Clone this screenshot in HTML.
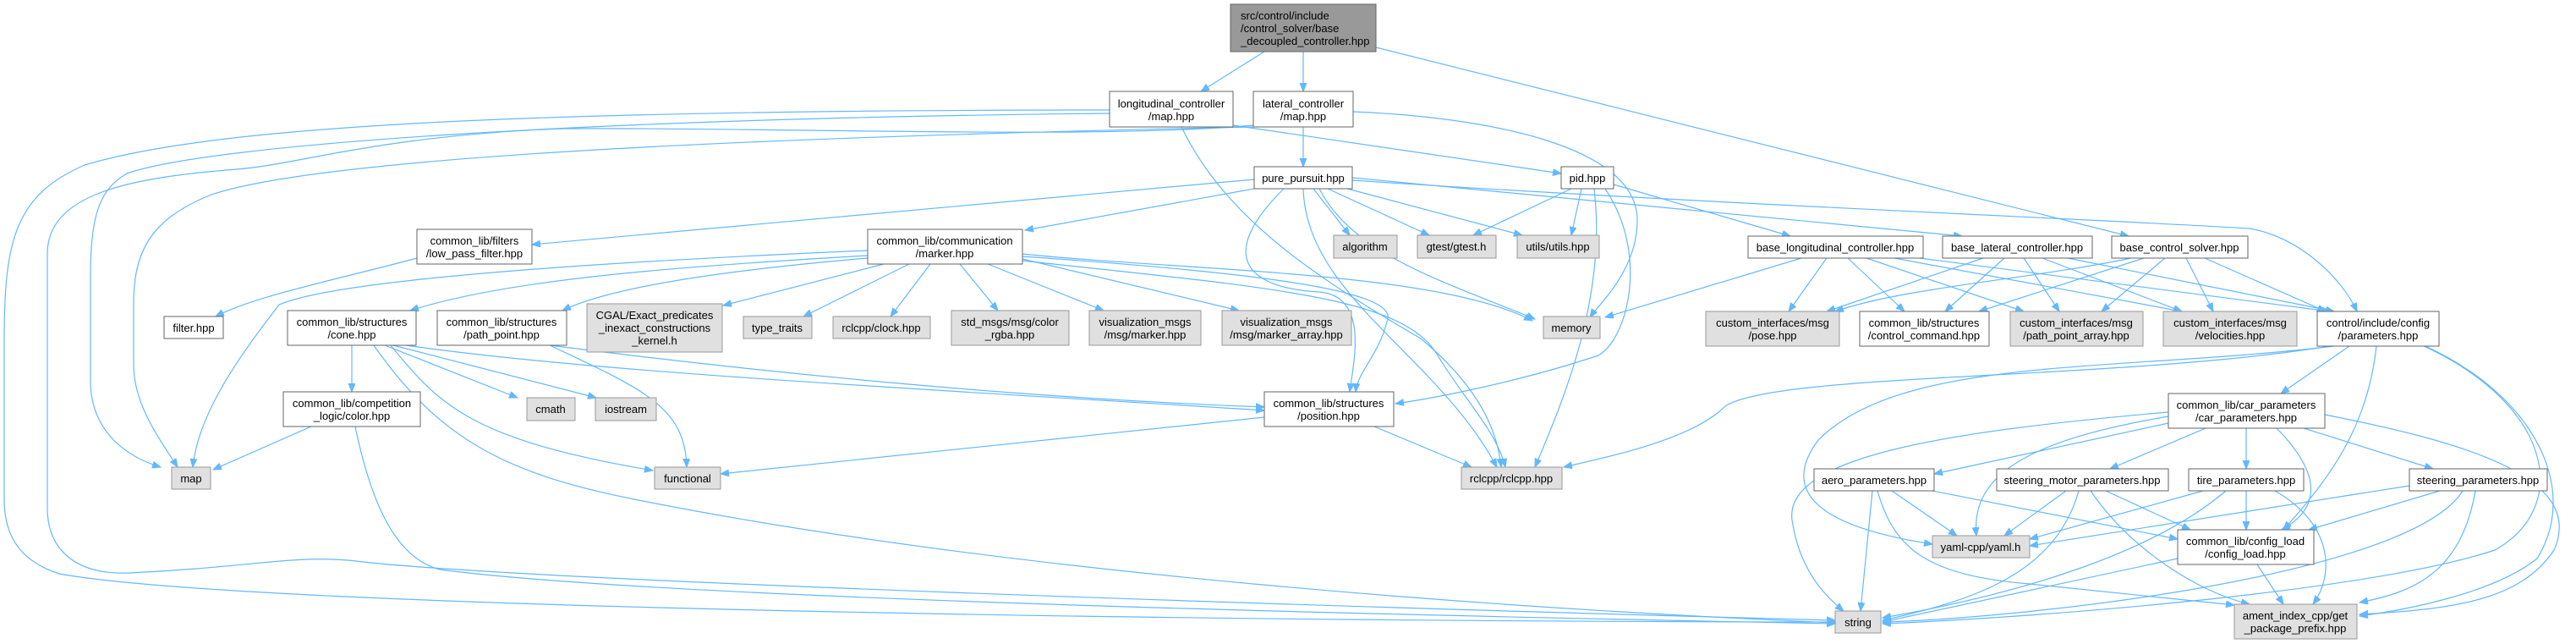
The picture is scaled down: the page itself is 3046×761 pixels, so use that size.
<!DOCTYPE html>
<html><head><meta charset="utf-8"><style>
html,body{margin:0;padding:0;background:#fff;}
svg{display:block}
text{font-family:"Liberation Sans",Arial,sans-serif;font-size:13px;fill:#000;transform:translateY(1px)}
.e{fill:none;stroke:#63b8ff;stroke-width:1.2;marker-end:url(#a)}
.w{fill:#fff;stroke:#666;stroke-width:1}
.g{fill:#e0e0e0;stroke:#999;stroke-width:1}
.r{fill:#999;stroke:#666;stroke-width:1}
</style></head><body>
<svg width="3046" height="761" viewBox="0 0 3046 761" xmlns="http://www.w3.org/2000/svg">
<defs><marker id="a" markerUnits="userSpaceOnUse" markerWidth="12" markerHeight="10" refX="10" refY="4" orient="auto"><path d="M0,0 L10,4 L0,8 z" fill="#63b8ff" stroke="#63b8ff"/></marker></defs>
<g>
<path class="e" d="M1495,61 L1420,108"/>
<path class="e" d="M1541,61 L1541,108"/>
<path class="e" d="M1627,56 L2517,279"/>
<path class="e" d="M1458,148 L1846,205"/>
<path class="e" d="M1312,130 C600,130 250,150 100,195 C20,230 5,280 5,400 L5,590 C5,640 30,665 70,678 C300,720 1500,735 2170,735"/>
<path class="e" d="M1312,134 C700,140 250,170 150,205 C115,225 107,260 107,330 L107,450 C107,510 150,540 190,552"/>
<path class="e" d="M1482,150 C1000,160 400,180 250,230 C175,260 158,300 158,360 L158,430 C158,480 190,520 210,552"/>
<path class="e" d="M1482,148 C1300,165 900,150 666,152 C450,160 350,195 280,200 C150,210 56,230 56,300 L56,600 C56,650 90,680 154,677 C300,670 350,655 421,663 C600,685 1500,715 2170,733"/>
<path class="e" d="M1541,150 L1541,197"/>
<path class="e" d="M1600,132 C1750,138 1936,170 1936,260 C1936,320 1890,360 1880,375"/>
<path class="e" d="M1397,150 C1450,260 1560,330 1680,400 C1740,450 1770,500 1775,552"/>
<path class="e" d="M1483,212 L629,289"/>
<path class="e" d="M1483,223 L1212,272"/>
<path class="e" d="M1553,223 L1596,278"/>
<path class="e" d="M1570,223 L1690,278"/>
<path class="e" d="M1593,223 L1800,278"/>
<path class="e" d="M1560,223 C1600,300 1700,330 1815,377"/>
<path class="e" d="M1518,223 C1440,300 1470,340 1560,345 C1620,350 1600,430 1596,463"/>
<path class="e" d="M1541,223 C1545,350 1700,420 1770,552"/>
<path class="e" d="M1599,213 C2000,240 2500,260 2660,270 C2720,280 2770,330 2787,368"/>
<path class="e" d="M1599,210 L2320,279"/>
<path class="e" d="M1858,223 L1742,278"/>
<path class="e" d="M1870,223 L1858,278"/>
<path class="e" d="M1885,223 C1900,350 1850,470 1815,552"/>
<path class="e" d="M1898,223 C1950,300 1925,400 1890,420 C1800,450 1700,470 1650,477"/>
<path class="e" d="M1908,218 L2117,279"/>
<path class="e" d="M1026,296 C700,310 400,330 330,360 C300,400 235,480 228,552"/>
<path class="e" d="M1026,302 C800,315 600,330 485,367"/>
<path class="e" d="M1026,305 C850,320 720,340 665,367"/>
<path class="e" d="M1045,312 L855,361"/>
<path class="e" d="M1075,312 L950,374"/>
<path class="e" d="M1100,312 L1053,374"/>
<path class="e" d="M1135,312 L1180,367"/>
<path class="e" d="M1168,312 L1305,367"/>
<path class="e" d="M1209,306 L1465,367"/>
<path class="e" d="M1209,300 C1400,320 1700,320 1812,379"/>
<path class="e" d="M1209,303 C1450,320 1660,340 1640,380 C1630,420 1605,440 1603,463"/>
<path class="e" d="M1209,308 C1500,340 1660,350 1700,420 C1730,470 1770,510 1780,552"/>
<path class="e" d="M493,305 C400,330 300,350 255,374"/>
<path class="e" d="M416,408 L416,463"/>
<path class="e" d="M455,408 L612,470"/>
<path class="e" d="M465,408 L705,470"/>
<path class="e" d="M462,408 C520,480 560,520 772,556"/>
<path class="e" d="M480,408 C700,440 1100,460 1495,485"/>
<path class="e" d="M442,408 C520,520 600,560 750,590 C1200,680 1800,720 2170,736"/>
<path class="e" d="M650,408 C900,440 1200,470 1495,481"/>
<path class="e" d="M650,408 C760,460 810,480 812,552"/>
<path class="e" d="M368,504 L252,555"/>
<path class="e" d="M420,504 C440,600 470,660 520,673 C800,710 1800,730 2170,737"/>
<path class="e" d="M1495,493 L852,560"/>
<path class="e" d="M1625,504 L1740,552"/>
<path class="e" d="M2160,305 L2115,368"/>
<path class="e" d="M2185,305 L2252,368"/>
<path class="e" d="M2207,305 L2393,368"/>
<path class="e" d="M2240,305 L2580,368"/>
<path class="e" d="M2270,305 L2755,368"/>
<path class="e" d="M2130,305 L1898,375"/>
<path class="e" d="M2345,305 L2160,368"/>
<path class="e" d="M2370,305 L2300,368"/>
<path class="e" d="M2393,305 L2435,368"/>
<path class="e" d="M2415,305 L2580,368"/>
<path class="e" d="M2445,305 L2760,368"/>
<path class="e" d="M2520,305 C2400,330 2250,340 2170,368"/>
<path class="e" d="M2535,305 L2340,368"/>
<path class="e" d="M2560,305 L2485,368"/>
<path class="e" d="M2585,305 L2617,368"/>
<path class="e" d="M2607,305 L2750,368"/>
<path class="e" d="M2778,409 L2697,465"/>
<path class="e" d="M2810,409 C2800,500 2760,560 2700,626"/>
<path class="e" d="M2866,409 C3020,480 3040,600 2950,650 C2800,700 2400,730 2226,737"/>
<path class="e" d="M2755,409 C2500,450 2100,440 2040,480 C2000,520 1900,540 1849,552"/>
<path class="e" d="M2760,409 C2500,440 2250,420 2150,520 C2090,600 2200,630 2285,643"/>
<path class="e" d="M2868,409 C3000,470 3050,580 3000,660 C2950,700 2850,720 2790,728"/>
<path class="e" d="M2564,500 L2287,560"/>
<path class="e" d="M2608,506 L2495,554"/>
<path class="e" d="M2656,506 L2656,554"/>
<path class="e" d="M2724,506 L2877,554"/>
<path class="e" d="M2692,506 C2745,560 2745,600 2698,626"/>
<path class="e" d="M2564,492 C2400,520 2330,560 2337,633"/>
<path class="e" d="M2564,487 C2300,510 2100,540 2120,620 C2130,680 2165,710 2180,722"/>
<path class="e" d="M2749,490 C2900,520 3060,560 3020,650 C2980,710 2900,720 2790,726"/>
<path class="e" d="M2237,580 L2314,633"/>
<path class="e" d="M2214,580 L2200,722"/>
<path class="e" d="M2285,580 L2575,637"/>
<path class="e" d="M2220,580 C2240,650 2280,680 2400,690 C2500,700 2600,710 2642,715"/>
<path class="e" d="M2443,580 L2370,633"/>
<path class="e" d="M2458,580 C2430,680 2330,710 2226,733"/>
<path class="e" d="M2490,580 L2590,626"/>
<path class="e" d="M2472,580 C2520,650 2600,700 2660,714"/>
<path class="e" d="M2605,580 L2400,637"/>
<path class="e" d="M2656,580 L2656,626"/>
<path class="e" d="M2632,580 C2550,650 2400,700 2226,730"/>
<path class="e" d="M2690,580 C2760,620 2760,680 2735,714"/>
<path class="e" d="M2849,574 L2400,645"/>
<path class="e" d="M2885,580 L2730,626"/>
<path class="e" d="M2912,580 C2850,680 2400,730 2226,735"/>
<path class="e" d="M2927,580 C2910,680 2850,700 2790,712"/>
<path class="e" d="M2575,660 L2226,735"/>
<path class="e" d="M2669,667 L2700,714"/>
</g>
<g text-anchor="middle">
<rect class="r" x="1455" y="5" width="172" height="56"/>
<text x="1467" y="22" text-anchor="start">src/control/include</text><text x="1467" y="37" text-anchor="start">/control_solver/base</text><text x="1467" y="52" text-anchor="start">_decoupled_controller.hpp</text>
<rect class="w" x="1312" y="108" width="146" height="42"/><text x="1385" y="126">longitudinal_controller</text><text x="1385" y="141">/map.hpp</text>
<rect class="w" x="1482" y="108" width="118" height="42"/><text x="1541" y="126">lateral_controller</text><text x="1541" y="141">/map.hpp</text>
<rect class="w" x="1483" y="197" width="116" height="26"/><text x="1541" y="214">pure_pursuit.hpp</text>
<rect class="w" x="1846" y="197" width="62" height="26"/><text x="1877" y="214">pid.hpp</text>
<rect class="w" x="493" y="271" width="136" height="41"/><text x="561" y="288">common_lib/filters</text><text x="561" y="303">/low_pass_filter.hpp</text>
<rect class="w" x="1026" y="271" width="183" height="41"/><text x="1117" y="288">common_lib/communication</text><text x="1117" y="303">/marker.hpp</text>
<rect class="g" x="1577" y="278" width="75" height="27"/><text x="1614" y="295">algorithm</text>
<rect class="g" x="1676" y="278" width="93" height="27"/><text x="1722" y="295">gtest/gtest.h</text>
<rect class="g" x="1794" y="278" width="97" height="27"/><text x="1842" y="295">utils/utils.hpp</text>
<rect class="w" x="2067" y="279" width="207" height="26"/><text x="2170" y="296">base_longitudinal_controller.hpp</text>
<rect class="w" x="2297" y="279" width="177" height="26"/><text x="2385" y="296">base_lateral_controller.hpp</text>
<rect class="w" x="2497" y="279" width="161" height="26"/><text x="2577" y="296">base_control_solver.hpp</text>
<rect class="w" x="194" y="374" width="70" height="26"/><text x="229" y="391">filter.hpp</text>
<rect class="w" x="340" y="367" width="152" height="41"/><text x="416" y="384">common_lib/structures</text><text x="416" y="399">/cone.hpp</text>
<rect class="w" x="517" y="367" width="153" height="41"/><text x="593" y="384">common_lib/structures</text><text x="593" y="399">/path_point.hpp</text>
<rect class="g" x="694" y="359" width="160" height="57"/><text x="774" y="376">CGAL/Exact_predicates</text><text x="774" y="391">_inexact_constructions</text><text x="774" y="406">_kernel.h</text>
<rect class="g" x="879" y="374" width="81" height="26"/><text x="919" y="391">type_traits</text>
<rect class="g" x="985" y="374" width="115" height="26"/><text x="1042" y="391">rclcpp/clock.hpp</text>
<rect class="g" x="1125" y="367" width="139" height="41"/><text x="1194" y="384">std_msgs/msg/color</text><text x="1194" y="399">_rgba.hpp</text>
<rect class="g" x="1288" y="367" width="132" height="41"/><text x="1354" y="384">visualization_msgs</text><text x="1354" y="399">/msg/marker.hpp</text>
<rect class="g" x="1445" y="367" width="153" height="41"/><text x="1521" y="384">visualization_msgs</text><text x="1521" y="399">/msg/marker_array.hpp</text>
<rect class="g" x="1825" y="374" width="67" height="26"/><text x="1858" y="391">memory</text>
<rect class="g" x="2017" y="368" width="158" height="41"/><text x="2096" y="385">custom_interfaces/msg</text><text x="2096" y="400">/pose.hpp</text>
<rect class="w" x="2199" y="368" width="153" height="41"/><text x="2275" y="385">common_lib/structures</text><text x="2275" y="400">/control_command.hpp</text>
<rect class="g" x="2377" y="368" width="157" height="41"/><text x="2455" y="385">custom_interfaces/msg</text><text x="2455" y="400">/path_point_array.hpp</text>
<rect class="g" x="2558" y="368" width="158" height="41"/><text x="2637" y="385">custom_interfaces/msg</text><text x="2637" y="400">/velocities.hpp</text>
<rect class="w" x="2740" y="368" width="144" height="41"/><text x="2812" y="385">control/include/config</text><text x="2812" y="400">/parameters.hpp</text>
<rect class="w" x="335" y="463" width="162" height="41"/><text x="416" y="480">common_lib/competition</text><text x="416" y="495">_logic/color.hpp</text>
<rect class="g" x="623" y="470" width="57" height="27"/><text x="651" y="487">cmath</text>
<rect class="g" x="704" y="470" width="72" height="27"/><text x="740" y="487">iostream</text>
<rect class="w" x="1495" y="463" width="153" height="41"/><text x="1571" y="480">common_lib/structures</text><text x="1571" y="495">/position.hpp</text>
<rect class="w" x="2564" y="465" width="185" height="41"/><text x="2656" y="482">common_lib/car_parameters</text><text x="2656" y="497">/car_parameters.hpp</text>
<rect class="g" x="203" y="552" width="46" height="26"/><text x="226" y="569">map</text>
<rect class="g" x="774" y="552" width="78" height="26"/><text x="813" y="569">functional</text>
<rect class="g" x="1728" y="552" width="119" height="26"/><text x="1787" y="569">rclcpp/rclcpp.hpp</text>
<rect class="w" x="2145" y="554" width="142" height="26"/><text x="2216" y="571">aero_parameters.hpp</text>
<rect class="w" x="2361" y="554" width="203" height="26"/><text x="2462" y="571">steering_motor_parameters.hpp</text>
<rect class="w" x="2588" y="554" width="136" height="26"/><text x="2656" y="571">tire_parameters.hpp</text>
<rect class="w" x="2849" y="554" width="163" height="26"/><text x="2930" y="571">steering_parameters.hpp</text>
<rect class="g" x="2285" y="633" width="115" height="26"/><text x="2342" y="650">yaml-cpp/yaml.h</text>
<rect class="w" x="2575" y="626" width="161" height="41"/><text x="2655" y="643">common_lib/config_load</text><text x="2655" y="658">/config_load.hpp</text>
<rect class="g" x="2642" y="714" width="145" height="41"/><text x="2714" y="731">ament_index_cpp/get</text><text x="2714" y="746">_package_prefix.hpp</text>
<rect class="g" x="2170" y="722" width="54" height="26"/><text x="2197" y="739">string</text>
</g>
</svg>
</body></html>
